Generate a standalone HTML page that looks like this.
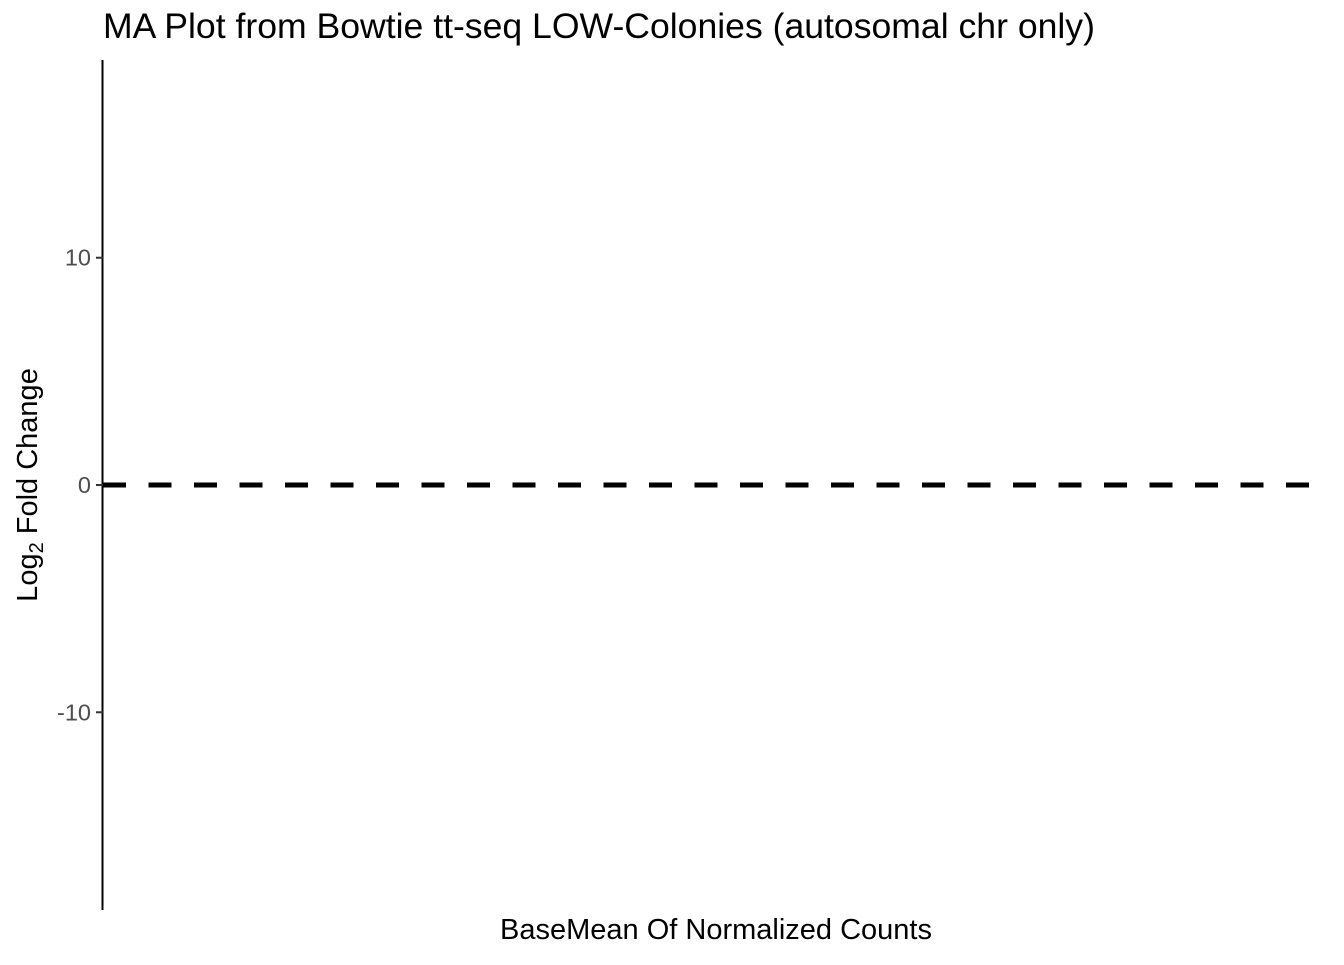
<!DOCTYPE html>
<html><head><meta charset="utf-8"><style>
body{margin:0;background:#fff;width:1344px;height:960px;overflow:hidden}
text{font-family:"Liberation Sans",sans-serif}
</style></head><body>
<svg width="1344" height="960">
<text x="103" y="38" font-size="35.6" fill="#000">MA Plot from Bowtie tt-seq LOW-Colonies (autosomal chr only)</text>
<g id="yaxis"></g>
<line id="zero" stroke="#000" stroke-width="5" stroke-dasharray="23 22.5"/>
<text x="716" y="939" font-size="29" text-anchor="middle" fill="#000">BaseMean Of Normalized Counts</text>
<text transform="translate(37,485) rotate(-90)" font-size="29" text-anchor="middle" fill="#000">Log<tspan font-size="20" dy="6">2</tspan><tspan dy="-6"> Fold Change</tspan></text>
</svg>
<script>
const yTicks=[10,0,-10];
const yTickLabels=["10","0","-10"];
const refValue=[0];
const yDomain=[-18.7,18.7];
const plot={left:103,right:1310,top:60,bottom:910};
function y(v){return plot.bottom-(v-yDomain[0])/(yDomain[1]-yDomain[0])*(plot.bottom-plot.top);}
const ns="http://www.w3.org/2000/svg";
const g=document.getElementById('yaxis');
const ax=document.createElementNS(ns,'line');


ax.setAttribute('x1',plot.left-0.5);ax.setAttribute('x2',plot.left-0.5);
ax.setAttribute('y1',plot.top);ax.setAttribute('y2',plot.bottom);
ax.setAttribute('stroke','#000');ax.setAttribute('stroke-width','2');
g.appendChild(ax);
yTicks.forEach((t,i)=>{
 const l=document.createElementNS(ns,'line');
 
 
 l.setAttribute('x1',plot.left-7);l.setAttribute('x2',plot.left);
 l.setAttribute('y1',y(t));l.setAttribute('y2',y(t));
 l.setAttribute('stroke','#333');l.setAttribute('stroke-width','2');
 g.appendChild(l);
 const tx=document.createElementNS(ns,'text');
 
 
 tx.setAttribute('x',plot.left-12);tx.setAttribute('y',y(t)+8);
 tx.setAttribute('text-anchor','end');tx.setAttribute('font-size','23.5');tx.setAttribute('fill','#4d4d4d');
 tx.textContent=yTickLabels[i];
 g.appendChild(tx);
});
const z=document.getElementById('zero');
z.setAttribute('x1',plot.left);z.setAttribute('x2',plot.right);
z.setAttribute('y1',y(refValue[0]));z.setAttribute('y2',y(refValue[0]));
</script>
</body></html>
